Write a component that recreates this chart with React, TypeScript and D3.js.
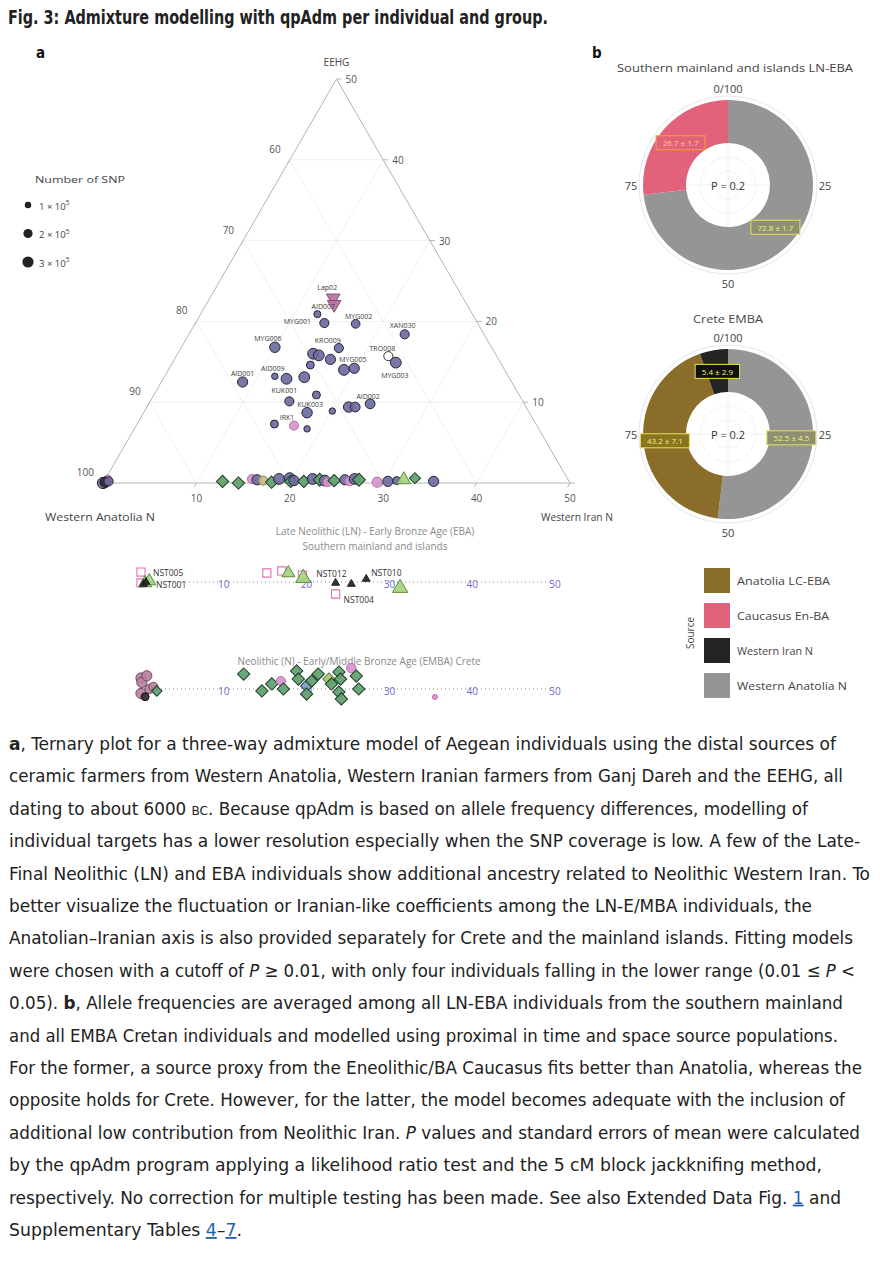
import React from 'react';
import * as d3 from 'd3';

// ---------------- DATA ----------------
// Panel a – ternary (values in %, Western Anatolia N = 100 - Iran - EEHG)
const ternaryAxisNames = ['Western Anatolia N', 'Western Iran N', 'EEHG'];
const ternaryTicks = [10, 20, 30, 40, 50];

const indLabel = ['Lap02', '', 'AID007', 'MYG001', 'MYG002', 'XAN030', 'MYG006', 'KRO009', '', '', '', 'TRO008', 'MYG003', 'MYG005', '', 'AID001', 'AID009', '', '', '', 'KUK001', '', '', '', 'AID002', 'KUK003', '', 'IRK1', '', ''];
const indIran = [13.2, 13.7, 12.5, 13.8, 17.2, 23.1, 10.0, 16.9, 14.5, 15.2, 16.7, 22.7, 23.9, 18.8, 19.8, 8.7, 11.8, 13.2, 15.0, 14.9, 14.9, 17.4, 21.6, 22.3, 23.7, 17.5, 20.1, 16.9, 14.7, 18.5];
const indEEHG = [22.9, 22.1, 20.9, 19.8, 19.7, 18.4, 16.8, 16.7, 16.0, 15.8, 15.3, 15.7, 14.9, 14.0, 14.2, 12.5, 13.2, 12.9, 13.1, 14.6, 10.1, 10.9, 9.4, 9.4, 9.8, 8.7, 8.9, 7.1, 7.3, 6.7];
const indSNP = [2.4, 2.4, 1.2, 2.0, 1.8, 2.0, 2.6, 2.0, 2.8, 2.8, 2.5, 2.0, 2.8, 2.8, 2.5, 2.5, 1.0, 2.8, 2.8, 1.5, 2.0, 1.5, 2.6, 2.3, 2.3, 2.6, 1.0, 2.0, 1.5, 1.0];
const indGroup = ['Lap', 'Lap', 'Mainland', 'Mainland', 'Mainland', 'Mainland', 'Mainland', 'Mainland', 'Mainland', 'Mainland', 'Mainland', 'Open', 'Mainland', 'Mainland', 'Mainland', 'Mainland', 'Mainland', 'Mainland', 'Mainland', 'Mainland', 'Mainland', 'Mainland', 'Mainland', 'Mainland', 'Mainland', 'Mainland', 'Mainland', 'Neolithic', 'Mainland', 'Mainland'];

// individuals on the Anatolia–Iran edge
const baseIran = [0, 0.3, 0.2, 0.5, 12.7, 14.5, 15.7, 16.3, 17.0, 18.0, 18.6, 19.7, 20.0, 20.3, 21.4, 22.2, 23.0, 23.6, 24.0, 24.6, 25.7, 26.3, 26.7, 27.2, 29.3, 30.4, 31.3, 32.0, 33.1, 35.3];
const baseEEHG = [0, 0.4, 0.1, 0.2, 0.2, 0, 0.5, 0.4, 0.3, 0.1, 0.5, 0.6, 0.2, 0.3, 0.2, 0.5, 0.4, 0.3, 0.1, 0.3, 0.4, 0.2, 0.5, 0.4, 0.1, 0.2, 0.3, 0.4, 0.6, 0.2];
const baseSNP = [3, 2, 2.5, 2, 2.5, 2.5, 2, 2.5, 2, 2.5, 2.8, 2.8, 2.5, 2.5, 2.5, 2.8, 2.8, 2.8, 2, 2.5, 2.5, 2, 2.8, 2.8, 2.5, 2.5, 1.5, 2.5, 2, 2.5];
const baseGroup = ['Mainland', 'Neolithic', 'Dark', 'Mainland', 'Crete', 'Crete', 'Neolithic', 'Mainland', 'Anatolia', 'Crete', 'Mainland', 'Mainland', 'Crete', 'Mainland', 'Crete', 'Mainland', 'Crete', 'Mainland', 'Neolithic', 'Crete', 'Mainland', 'Neolithic', 'Mainland', 'Crete', 'Neolithic', 'Mainland', 'Mainland', 'Islands', 'Crete', 'Mainland'];

const snpLegend = [1, 2, 3];

// LN–EBA southern mainland and islands strip (Western Iran N %)
const lnLabel = ['NST005', 'NST001', '', '', '', '', '', '', '', '', 'NST012', '', '', 'NST010', '', 'NST004'];
const lnValue = [0, 0, 0.5, 1.0, 0.6, 0.3, 15.2, 17.0, 17.8, 19.5, 19.6, 23.5, 25.4, 27.2, 31.3, 23.5];
const lnJitter = [-0.83, 0.08, 0.08, -0.08, 0, 0.17, -0.75, -0.92, -0.75, -0.58, -0.33, 0.08, 0.17, -0.25, 0.5, 1.0];
const lnGroup = ['NeoSquare', 'NeoSquare', 'Islands', 'Islands', 'EBA', 'EBA', 'NeoSquare', 'NeoSquare', 'Islands', 'NeoSquare', 'Islands', 'EBA', 'EBA', 'EBA', 'Islands', 'NeoSquare'];
const lnSNP = [2, 2, 2.2, 2.2, 0.8, 0.8, 2, 2, 2.2, 2, 3, 0.8, 0.8, 0.8, 3, 2];

// N – EMBA Crete strip (Western Iran N %)
const crValue = [0, 0.1, 0.7, 0, 1.0, 0.5, 1.5, 1.9, 12.4, 14.6, 15.8, 16.9, 17.2, 18.8, 19.0, 20.0, 20.6, 21.4, 20.0, 22.7, 23.0, 23.9, 24.1, 23.9, 24.2, 25.4, 26.0, 26.3, 35.5];
const crJitter = [-0.5, -0.3, -0.6, 0.2, 0, 0.35, -0.1, 0.09, -0.68, 0.09, -0.23, -0.36, 0, -0.82, -0.45, -0.14, -0.36, -0.68, 0.23, -0.45, -0.23, -0.77, -0.45, 0.14, 0.45, -0.95, -0.59, 0, 0.36];
const crGroup = ['CreteN', 'CreteN', 'CreteN', 'CreteN', 'CreteN', 'Dark', 'CreteN', 'Crete', 'Crete', 'Crete', 'Crete', 'Neolithic', 'Crete', 'Crete', 'Crete', 'CreteBlue', 'Crete', 'Crete', 'Crete', 'CreteMBA', 'Crete', 'Crete', 'Crete', 'Crete', 'Crete', 'Neolithic', 'Crete', 'Crete', 'Neolithic'];
const crSNP = [2.5, 2.5, 2.5, 2.5, 2, 1.5, 2, 1.8, 2.5, 2.5, 2.5, 2, 2.5, 2.5, 2.5, 2.5, 2.5, 2.5, 2.5, 2.5, 2.5, 2.5, 2.5, 2.5, 2.5, 2.2, 2.5, 2.5, 0.6];
const stripTicks = [10, 20, 30, 40, 50];

// Panel b – donuts
const southSources = ['Western Anatolia N', 'Caucasus En-BA'];
const southValues = [72.8, 26.7];
const southErrors = [1.7, 1.7];
const creteSources = ['Western Anatolia N', 'Anatolia LC-EBA', 'Western Iran N'];
const creteValues = [52.5, 43.2, 5.4];
const creteErrors = [4.5, 7.1, 2.9];
const donutP = [0.2, 0.2];
const donutTitles = ['Southern mainland and islands LN-EBA', 'Crete EMBA'];
const angularTicks = ['0/100', '25', '50', '75'];
const legendSources = ['Anatolia LC-EBA', 'Caucasus En-BA', 'Western Iran N', 'Western Anatolia N'];

// ---------------- STYLE ----------------
const chartFont = "'Open Sans', 'Noto Sans', sans-serif";
const textFont = "'Liberation Sans Narrow', 'DejaVu Sans Condensed', 'Liberation Sans', sans-serif";

const sourceColor: Record<string, string> = {
  'Anatolia LC-EBA': '#8a6d28',
  'Caucasus En-BA': '#e2627b',
  'Western Iran N': '#242424',
  'Western Anatolia N': '#959595',
};
const legendTextWidth: Record<string, number> = {
  'Anatolia LC-EBA': 93, 'Caucasus En-BA': 92, 'Western Iran N': 76, 'Western Anatolia N': 110,
};
const boxStyle: Record<string, { fill: string; stroke: string; text: string }> = {
  'Anatolia LC-EBA': { fill: '#8a7420', stroke: '#e6e25a', text: '#f6f27a' },
  'Caucasus En-BA': { fill: '#e2627b', stroke: '#f2a23a', text: '#ffcf74' },
  'Western Iran N': { fill: '#111111', stroke: '#e6e25a', text: '#f6f27a' },
  'Western Anatolia N': { fill: '#8f8f72', stroke: '#e6e25a', text: '#f6f27a' },
};

type Kind = { shape: string; fill: string; stroke: string };
const kindStyle: Record<string, Kind> = {
  Mainland: { shape: 'circle', fill: '#6e6b9e', stroke: '#25253a' },
  Crete: { shape: 'diamond', fill: '#5f9f6f', stroke: '#1d3b26' },
  CreteBlue: { shape: 'diamond', fill: '#7d9fc0', stroke: '#2d4660' },
  CreteMBA: { shape: 'diamond', fill: '#a9c873', stroke: '#5d7a3a' },
  Neolithic: { shape: 'circle', fill: '#d793cb', stroke: '#b873ad' },
  Anatolia: { shape: 'circle', fill: '#cfbd86', stroke: '#8d7d52' },
  Islands: { shape: 'triangle', fill: '#a6d580', stroke: '#5e8c46' },
  Lap: { shape: 'triangleDown', fill: '#b5729f', stroke: '#83506f' },
  Open: { shape: 'circle', fill: '#ffffff', stroke: '#333333' },
  Dark: { shape: 'circle', fill: '#3b2638', stroke: '#111111' },
  NeoSquare: { shape: 'square', fill: 'none', stroke: '#e470b6' },
  EBA: { shape: 'triangle', fill: '#222222', stroke: '#222222' },
  CreteN: { shape: 'circle', fill: '#b9829f', stroke: '#6f4d60' },
};

const labelNudge: Record<string, [number, number]> = {
  Lap02: [-6, -10], AID007: [6, -8], MYG001: [-27, -2], MYG002: [3, -7], XAN030: [-2, -9],
  MYG006: [-7, -9], KRO009: [-11, -8], TRO008: [-6, -8], MYG003: [-1, 13], MYG005: [9, -10],
  AID001: [0, -9], AID009: [-2, -8], KUK001: [-5, -11], AID002: [-2, -7], KUK003: [3, -8], IRK1: [-7, -8],
};
const stripLabelNudge: Record<string, [number, number]> = {
  NST005: [12, 0], NST001: [15, 2], NST012: [13, -5], NST010: [5, -7], NST004: [8, 5],
};

const rScale = d3.scaleSqrt().domain([0, 3]).range([0, 5.6]);

function Marker({ kind, x, y, r }: { kind: string; x: number; y: number; r: number }) {
  const s = kindStyle[kind];
  let d = '';
  let rot = 0;
  if (s.shape === 'circle') d = d3.symbol().type(d3.symbolCircle).size(Math.PI * r * r)() as string;
  else if (s.shape === 'diamond') { d = d3.symbol().type(d3.symbolSquare).size(2.9 * r * r)() as string; rot = 45; }
  else if (s.shape === 'square') d = d3.symbol().type(d3.symbolSquare).size(3.2 * r * r)() as string;
  else if (s.shape === 'triangle') d = d3.symbol().type(d3.symbolTriangle).size(3.2 * r * r)() as string;
  else if (s.shape === 'triangleDown') { d = d3.symbol().type(d3.symbolTriangle).size(3.2 * r * r)() as string; rot = 180; }
  return (
    <path d={d} transform={`translate(${x},${y}) rotate(${rot})`} fill={s.fill} fillOpacity={s.fill === 'none' ? 0 : 0.92}
      stroke={s.stroke} strokeWidth={s.shape === 'square' ? 1.1 : 1} />
  );
}

// ---------------- PANEL a: TERNARY ----------------
const tx = d3.scaleLinear().domain([0, 50]).range([103, 570]);
const ty = d3.scaleLinear().domain([0, 50]).range([483, 79]);
const proj = (iran: number, eehg: number): [number, number] => [tx(iran + eehg / 2), ty(eehg)];

function Ternary() {
  const grid = [10, 20, 30, 40];
  const line = d3.line();
  const tri = line([proj(0, 0), proj(50, 0), proj(0, 50), proj(0, 0)]) as string;
  return (
    <g fontFamily={chartFont}>
      {grid.map((v) => (
        <g key={v} stroke="#ececec" strokeWidth={0.8}>
          <path d={line([proj(0, v), proj(50 - v, v)]) as string} />
          <path d={line([proj(v, 0), proj(v, 50 - v)]) as string} />
          <path d={line([proj(v, 0), proj(0, v)]) as string} />
        </g>
      ))}
      <path d={tri} fill="none" stroke="#b4b4b4" strokeWidth={1} />
      {[0, ...ternaryTicks].map((v) => {
        const [lx, ly] = proj(0, v);
        const [rx, ry] = proj(50 - v, v);
        return (
          <g key={'t' + v}>
            {v < 50 && <line x1={lx} y1={ly} x2={lx - 2.5} y2={ly + 4.3} stroke="#b4b4b4" />}
            <line x1={rx} y1={ry} x2={rx + 5} y2={ry} stroke="#b4b4b4" />
            {v < 50 && <text x={lx - 9} y={ly - 11} textAnchor="end" dominantBaseline="central" fontSize={10} fill="#555">{100 - v}</text>}
            {v > 0 && <text x={rx + 9} y={ry} textAnchor="start" dominantBaseline="central" fontSize={10} fill="#555">{v}</text>}
          </g>
        );
      })}
      {ternaryTicks.map((v) => {
        const [bx, by] = proj(v, 0);
        return (
          <g key={'b' + v}>
            <line x1={bx} y1={by} x2={bx - 2.5} y2={by + 4.3} stroke="#b4b4b4" />
            <text x={bx} y={by + 15} textAnchor="middle" dominantBaseline="central" fontSize={10} fill="#555">{v}</text>
          </g>
        );
      })}
      <text x={proj(0, 50)[0]} y={62} textAnchor="middle" fontSize={10} fill="#444" dominantBaseline="central">{ternaryAxisNames[2]}</text>
      <text x={45} y={516} fontSize={11} fill="#444" dominantBaseline="central" textLength={110} lengthAdjust="spacingAndGlyphs">{ternaryAxisNames[0]}</text>
      <text x={541} y={516} fontSize={11} fill="#444" dominantBaseline="central" textLength={72} lengthAdjust="spacingAndGlyphs">{ternaryAxisNames[1]}</text>

      {/* SNP legend */}
      <text x={35} y={179} fontSize={9.5} fill="#444" dominantBaseline="central" textLength={90} lengthAdjust="spacingAndGlyphs">Number of SNP</text>
      {snpLegend.map((s, i) => (
        <g key={'l' + s}>
          <circle cx={28} cy={205 + i * 28.5} r={rScale(s)} fill="#222" />
          <text x={39} y={206 + i * 28.5} fontSize={9.5} fill="#444" dominantBaseline="central">
            {s} × 10<tspan fontSize={6.5} dy={-4}>5</tspan>
          </text>
        </g>
      ))}

      {baseIran.map((v, i) => {
        const [x, y] = proj(v, baseEEHG[i]);
        return <Marker key={'p' + i} kind={baseGroup[i]} x={x} y={y} r={rScale(baseSNP[i])} />;
      })}
      {indIran.map((v, i) => {
        const [x, y] = proj(v, indEEHG[i]);
        return <Marker key={'q' + i} kind={indGroup[i]} x={x} y={y} r={rScale(indSNP[i])} />;
      })}
      {indIran.map((v, i) => {
        if (!indLabel[i]) return null;
        const [x, y] = proj(v, indEEHG[i]);
        const [dx, dy] = labelNudge[indLabel[i]];
        return <text key={'n' + i} x={x + dx} y={y + dy} fontSize={7} fill="#3a3a3a" textAnchor="middle" dominantBaseline="central">{indLabel[i]}</text>;
      })}
    </g>
  );
}

// ---------------- strips ----------------
const sx = d3.scaleLinear().domain([0, 50]).range([141, 555]);

function Strip({ y0, values, jitter, groups, snp, labels, spread, titles }: any) {
  const jy = d3.scaleLinear().domain([-1, 1]).range([-spread, spread]);
  return (
    <g fontFamily={chartFont}>
      {titles.map((t: string, i: number) => (
        <text key={t} x={titles.length > 1 ? 375 : 359} y={i === 0 ? (titles.length > 1 ? y0 - 51 : y0 - 28) : y0 - 36} textAnchor="middle"
          fontSize={10} fill="#8a8a8a" dominantBaseline="central">{t}</text>
      ))}
      <line x1={sx(0)} x2={sx(50)} y1={y0} y2={y0} stroke="#8a8a8a" strokeWidth={1} strokeDasharray="1 3" />
      {stripTicks.map((t) => (
        <text key={t} x={sx(t)} y={y0 + 2} textAnchor="middle" dominantBaseline="central" fontSize={10} fill="#6a6ad8">{t}</text>
      ))}
      {values.map((v: number, i: number) => (
        <Marker key={i} kind={groups[i]} x={sx(v)} y={y0 + jy(jitter[i])} r={rScale(snp[i])} />
      ))}
      {labels && values.map((v: number, i: number) => {
        if (!labels[i]) return null;
        const [dx, dy] = stripLabelNudge[labels[i]];
        return <text key={'s' + i} x={sx(v) + dx} y={y0 + jy(jitter[i]) + dy} fontSize={8.5} fill="#333" dominantBaseline="central">{labels[i]}</text>;
      })}
    </g>
  );
}

// ---------------- PANEL b: DONUTS ----------------
function Donut({ cx, cy, title, sources, values, errors, p, titleY }: any) {
  const pie = d3.pie<number>().sort(null).value((d) => d);
  const arcs = pie(values);
  const inner = 42, outer = 85;
  const arc = d3.arc<d3.PieArcDatum<number>>().innerRadius(inner).outerRadius(outer);
  const tickR = 97;
  const tickPos = [[0, -tickR], [tickR, 0], [0, tickR + 1], [-tickR, 0]];
  return (
    <g transform={`translate(${cx},${cy})`} fontFamily={chartFont}>
      <text x={titleY.dx} y={titleY.y - cy} textAnchor="middle" dominantBaseline="central" fontSize={10.5} fill="#444"
        textLength={titleY.w} lengthAdjust="spacingAndGlyphs">{title}</text>
      <circle r={89} fill="none" stroke="#e4e6ee" strokeWidth={1} />
      <circle r={inner - 14} fill="none" stroke="#eeeeee" strokeWidth={0.8} />
      <circle r={inner - 28} fill="none" stroke="#eeeeee" strokeWidth={0.8} />
      <line x1={0} x2={0} y1={-inner} y2={inner} stroke="#eeeeee" strokeWidth={0.8} />
      <line x1={-inner} x2={inner} y1={0} y2={0} stroke="#eeeeee" strokeWidth={0.8} />
      {arcs.map((a, i) => (
        <path key={i} d={arc(a) as string} fill={sourceColor[sources[i]]} />
      ))}
      {angularTicks.map((t, i) => (
        <text key={t} x={tickPos[i][0]} y={tickPos[i][1]} textAnchor="middle" dominantBaseline="central" fontSize={11} fill="#444">{t}</text>
      ))}
      <text x={0} y={0} textAnchor="middle" dominantBaseline="central" fontSize={11} fill="#333">P = {p}</text>
      {arcs.map((a, i) => {
        const [x, y] = arc.centroid(a);
        const label = `${values[i]} ± ${errors[i]}`;
        const w = label.length * 4.5 + 4;
        const st = boxStyle[sources[i]];
        return (
          <g key={'b' + i} transform={`translate(${x},${y})`}>
            <rect x={-w / 2} y={-7} width={w} height={14} fill={st.fill} stroke={st.stroke} strokeWidth={1} />
            <text textAnchor="middle" dominantBaseline="central" fontSize={8} fill={st.text}>{label}</text>
          </g>
        );
      })}
    </g>
  );
}

function Legend() {
  return (
    <g fontFamily={chartFont}>
      <text transform="translate(690,633) rotate(-90)" textAnchor="middle" dominantBaseline="central" fontSize={10} fill="#444">Source</text>
      {legendSources.map((s, i) => (
        <g key={s} transform={`translate(704,${568 + i * 35})`}>
          <rect width={26} height={25} fill={sourceColor[s]} />
          <text x={33} y={13} fontSize={10.5} fill="#444" dominantBaseline="central" textLength={legendTextWidth[s]} lengthAdjust="spacingAndGlyphs">{s}</text>
        </g>
      ))}
    </g>
  );
}

// ---------------- caption ----------------
type Seg = { t: string; b?: boolean; i?: boolean; sc?: boolean; link?: boolean };
const captionLines: Seg[][] = [
  [{ t: 'a', b: true }, { t: ', Ternary plot for a three-way admixture model of Aegean individuals using the distal sources of' }],
  [{ t: 'ceramic farmers from Western Anatolia, Western Iranian farmers from Ganj Dareh and the EEHG, all' }],
  [{ t: 'dating to about 6000 ' }, { t: 'BC', sc: true }, { t: '. Because qpAdm is based on allele frequency differences, modelling of' }],
  [{ t: 'individual targets has a lower resolution especially when the SNP coverage is low. A few of the Late-' }],
  [{ t: 'Final Neolithic (LN) and EBA individuals show additional ancestry related to Neolithic Western Iran. To' }],
  [{ t: 'better visualize the fluctuation or Iranian-like coefficients among the LN-E/MBA individuals, the' }],
  [{ t: 'Anatolian–Iranian axis is also provided separately for Crete and the mainland islands. Fitting models' }],
  [{ t: 'were chosen with a cutoff of ' }, { t: 'P', i: true }, { t: ' ≥ 0.01, with only four individuals falling in the lower range (0.01 ≤ ' }, { t: 'P', i: true }, { t: ' <' }],
  [{ t: '0.05). ' }, { t: 'b', b: true }, { t: ', Allele frequencies are averaged among all LN-EBA individuals from the southern mainland' }],
  [{ t: 'and all EMBA Cretan individuals and modelled using proximal in time and space source populations.' }],
  [{ t: 'For the former, a source proxy from the Eneolithic/BA Caucasus fits better than Anatolia, whereas the' }],
  [{ t: 'opposite holds for Crete. However, for the latter, the model becomes adequate with the inclusion of' }],
  [{ t: 'additional low contribution from Neolithic Iran. ' }, { t: 'P', i: true }, { t: ' values and standard errors of mean were calculated' }],
  [{ t: 'by the qpAdm program applying a likelihood ratio test and the 5 cM block jackknifing method,' }],
  [{ t: 'respectively. No correction for multiple testing has been made. See also Extended Data Fig. ' }, { t: '1', link: true }, { t: ' and' }],
  [{ t: 'Supplementary Tables ' }, { t: '4', link: true }, { t: '–' }, { t: '7', link: true }, { t: '.' }],
];
const captionEnds = [836, 843, 808, 860, 870, 812, 853, 855, 843, 838, 862, 845, 860, 822, 841, 242];

function Caption() {
  const x0 = 9;
  return (
    <g fontFamily={textFont} fontSize={18} fill="#222">
      {captionLines.map((segs, k) => (
        <text key={k} x={x0} y={750 + k * 32.4} textLength={captionEnds[k] - x0} lengthAdjust="spacingAndGlyphs">
          {segs.map((s, j) => (
            <tspan key={j} fontWeight={s.b ? 'bold' : undefined} fontStyle={s.i ? 'italic' : undefined}
              fontSize={s.sc ? 13 : undefined} fill={s.link ? '#1a5fb4' : undefined}
              textDecoration={s.link ? 'underline' : undefined}>{s.t}</tspan>
          ))}
        </text>
      ))}
    </g>
  );
}

export default function App() {
  return (
    <svg width={880} height={1262} style={{ position: 'absolute', left: 0, top: 0, background: '#fff' }}>
      <rect width={880} height={1262} fill="#fff" />
      <text x={8} y={24} fontFamily={textFont} fontWeight="bold" fontSize={20} fill="#222" textLength={540} lengthAdjust="spacingAndGlyphs">
        Fig. 3: Admixture modelling with qpAdm per individual and group.
      </text>
      <text x={36} y={58} fontFamily={textFont} fontWeight="bold" fontSize={15} fill="#111">a</text>
      <text x={592} y={58} fontFamily={textFont} fontWeight="bold" fontSize={15} fill="#111">b</text>
      <Ternary />
      <Strip y0={582} values={lnValue} jitter={lnJitter} groups={lnGroup} snp={lnSNP} labels={lnLabel} spread={12}
        titles={['Late Neolithic (LN) - Early Bronze Age (EBA)', 'Southern mainland and islands']} />
      <Strip y0={689} values={crValue} jitter={crJitter} groups={crGroup} snp={crSNP} labels={null} spread={22}
        titles={['Neolithic (N) - Early/Middle Bronze Age (EMBA) Crete']} />
      <Donut cx={728} cy={185} title={donutTitles[0]} sources={southSources} values={southValues} errors={southErrors} p={donutP[0]} titleY={{ y: 68, dx: 7, w: 236 }} />
      <Donut cx={728} cy={434} title={donutTitles[1]} sources={creteSources} values={creteValues} errors={creteErrors} p={donutP[1]} titleY={{ y: 319, dx: 0, w: 70 }} />
      <Legend />
      <Caption />
    </svg>
  );
}
